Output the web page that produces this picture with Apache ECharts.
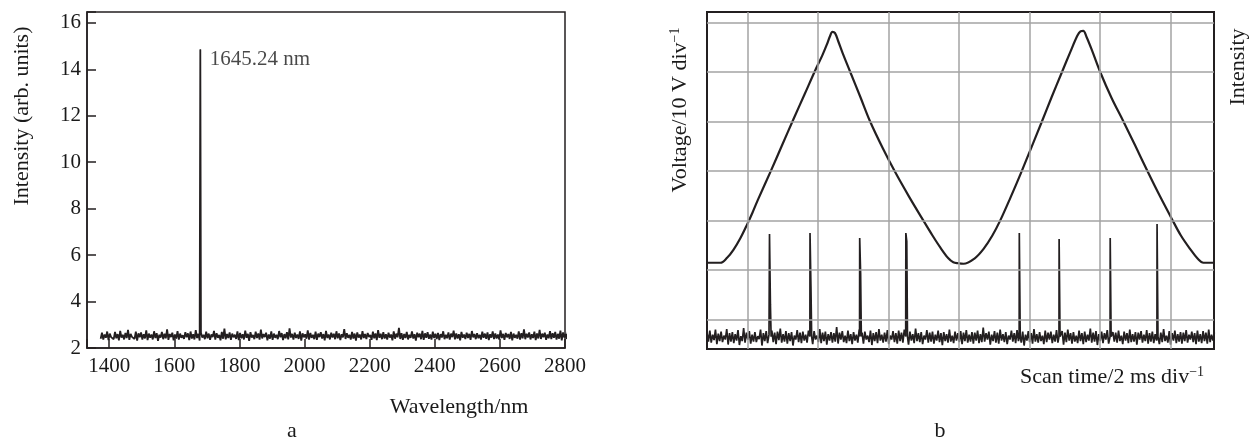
<!DOCTYPE html>
<html><head><meta charset="utf-8">
<script src="https://cdn.jsdelivr.net/npm/echarts@6/dist/echarts.min.js"></script>
<style>html,body{margin:0;padding:0;background:#fff}#c{width:1257px;height:439px}</style>
</head><body><div id="c"></div>
<script>
// ---------- Panel a: spectrum ----------
const aXTicks = [1400, 1600, 1800, 2000, 2200, 2400, 2600, 2800];
const aYTicks = [2, 4, 6, 8, 10, 12, 14, 16];
const aNoiseStart = 1374;   // nm, first sample
const aNoiseStep = 4;       // nm between samples
const aNoise = [
2.40,2.66,2.36,2.58,2.44,2.71,2.34,2.62,2.47,2.55,
2.38,2.69,2.42,2.60,2.33,2.74,2.45,2.57,2.37,2.65,
2.43,2.78,2.35,2.61,2.48,2.56,2.39,2.70,2.32,2.63,
2.46,2.67,2.36,2.59,2.41,2.76,2.34,2.62,2.44,2.58,
2.37,2.72,2.43,2.64,2.31,2.57,2.45,2.69,2.38,2.61,
2.42,2.80,2.35,2.60,2.47,2.66,2.33,2.58,2.40,2.73,
2.36,2.62,2.44,2.55,2.39,2.68,2.46,2.63,2.34,2.71,
2.41,2.59,2.37,2.77,2.43,2.61,2.32,2.66,2.45,2.57,
2.38,2.70,2.42,2.62,2.35,2.58,2.47,2.74,2.36,2.64,
2.44,2.56,2.33,2.69,2.40,2.83,2.37,2.60,2.43,2.67,
2.35,2.62,2.46,2.57,2.39,2.72,2.34,2.65,2.42,2.59,
2.37,2.75,2.44,2.61,2.31,2.68,2.45,2.56,2.38,2.70,
2.43,2.63,2.36,2.79,2.41,2.60,2.47,2.66,2.33,2.58,
2.40,2.71,2.35,2.62,2.44,2.57,2.38,2.73,2.46,2.64,
2.34,2.60,2.42,2.68,2.37,2.85,2.45,2.61,2.36,2.66,
2.43,2.58,2.39,2.72,2.32,2.63,2.46,2.59,2.40,2.76,
2.36,2.65,2.44,2.57,2.38,2.70,2.35,2.62,2.47,2.68,
2.41,2.60,2.33,2.74,2.43,2.58,2.37,2.66,2.45,2.61,
2.38,2.72,2.42,2.63,2.34,2.59,2.46,2.81,2.39,2.64,
2.44,2.57,2.36,2.69,2.41,2.62,2.32,2.67,2.45,2.58,
2.37,2.73,2.43,2.60,2.39,2.65,2.47,2.56,2.35,2.70,
2.42,2.63,2.34,2.77,2.44,2.61,2.38,2.68,2.41,2.59,
2.36,2.66,2.45,2.58,2.33,2.72,2.40,2.62,2.46,2.87,
2.39,2.64,2.35,2.60,2.43,2.69,2.37,2.57,2.44,2.71,
2.41,2.59,2.32,2.66,2.46,2.62,2.38,2.74,2.35,2.63,
2.44,2.68,2.40,2.58,2.36,2.70,2.43,2.61,2.39,2.65,
2.34,2.60,2.45,2.72,2.38,2.57,2.42,2.67,2.36,2.62,
2.47,2.75,2.37,2.63,2.41,2.59,2.33,2.69,2.44,2.58,
2.39,2.66,2.43,2.61,2.35,2.73,2.46,2.60,2.38,2.64,
2.42,2.57,2.36,2.70,2.44,2.62,2.40,2.67,2.34,2.59,
2.45,2.71,2.38,2.63,2.41,2.58,2.37,2.76,2.43,2.61,
2.35,2.65,2.46,2.60,2.39,2.69,2.33,2.62,2.44,2.57,
2.40,2.72,2.36,2.64,2.42,2.80,2.38,2.61,2.45,2.67,
2.37,2.59,2.43,2.70,2.34,2.63,2.41,2.78,2.39,2.62,
2.46,2.66,2.35,2.58,2.42,2.73,2.38,2.64,2.44,2.69,
2.36,2.61,2.40,2.75,2.33,2.67,2.45,2.60,2.39,2.84
];
const aPeakWavelength = 1680;
const aPeakIntensity = 14.85;
const aPeakLabel = '1645.24 nm';

// ---------- Panel b: scan trace ----------
const bGridTimes = [2, 4, 6, 8, 10, 12, 14];        // ms, 2 ms per division
const bGridVolts = [0, 10, 20, 30, 40, 50, 60];     // V, 10 V per division
const bVoltTimes = [0.85,1.23,1.42,1.60,1.80,1.98,2.14,2.30,2.66,2.98,3.30,3.62,3.92,4.12,4.25,4.34,4.41,4.48,4.57,4.70,4.91,5.20,5.48,5.84,6.19,6.58,6.95,7.25,7.47,7.70,7.84,7.98,8.13,8.45,8.70,8.95,9.17,9.46,9.76,10.07,10.35,10.63,10.92,11.16,11.36,11.45,11.53,11.62,11.78,12.01,12.33,12.67,13.00,13.35,13.70,14.04,14.30,14.56,14.78,14.94,15.24];
const bVolts     = [11.5,11.5,12.5,14.1,16.5,19.1,21.6,24.3,30.0,35.2,40.4,45.5,50.3,53.3,55.5,57.2,58.1,57.9,56.3,53.8,50.1,45.0,40.0,34.6,29.8,24.9,20.5,17.0,14.6,12.4,11.6,11.4,11.3,12.4,14.3,17.0,20.0,24.6,29.6,35.0,39.9,44.9,49.9,54.0,57.3,58.2,58.3,57.1,54.3,50.0,44.8,40.0,35.2,30.0,25.0,20.4,17.0,14.3,12.3,11.5,11.5];
const bNoiseStart = 0.85;   // ms
const bNoiseStep = 0.04;    // ms
const bNoise = [
-2.6,-4.4,-2.2,-4.6,-3.0,-4.1,-2.0,-4.9,-2.8,-4.3,
-2.4,-4.5,-3.2,-4.0,-1.9,-5.0,-2.7,-4.4,-2.5,-4.7,
-2.9,-4.2,-2.1,-5.1,-3.3,-4.3,-1.7,-4.6,-2.6,-4.0,
-2.3,-4.8,-3.0,-4.4,-2.5,-4.5,-3.3,-3.9,-2.0,-5.2,
-2.7,-4.3,-2.3,-4.7,-3.0,-4.2,-2.2,-4.5,-2.6,-4.9,
-2.4,-4.1,-1.8,-4.6,-2.9,-4.4,-2.3,-4.8,-2.7,-4.3,
-2.5,-5.2,-3.2,-4.0,-2.1,-4.5,-2.6,-4.7,-2.4,-4.2,
-3.0,-4.6,-2.2,-4.4,-2.7,-4.9,-2.3,-4.0,-3.2,-4.5,
-1.9,-4.7,-2.6,-4.3,-2.4,-5.0,-2.9,-4.2,-2.5,-4.6,
-2.7,-4.4,-1.5,-4.8,-2.6,-4.0,-2.3,-4.5,-3.2,-4.7,
-2.2,-4.3,-2.9,-4.9,-2.5,-4.2,-3.0,-4.6,-2.0,-4.4,
-2.6,-4.8,-2.4,-4.0,-3.2,-4.5,-2.2,-5.1,-2.7,-4.3,
-2.5,-4.7,-1.9,-4.2,-3.0,-4.6,-2.6,-4.4,-2.1,-4.9,
-3.2,-4.0,-2.3,-4.5,-2.7,-4.8,-2.2,-4.3,-2.6,-4.6,
-2.0,-4.4,-3.0,-5.0,-2.4,-4.2,-2.9,-4.7,-1.8,-4.3,
-2.7,-4.5,-2.5,-4.9,-3.2,-4.0,-2.1,-4.6,-2.6,-4.4,
-2.4,-4.8,-3.0,-4.2,-2.2,-4.5,-2.7,-5.1,-2.5,-4.3,
-2.9,-4.6,-2.0,-4.4,-3.2,-4.7,-2.4,-4.2,-2.7,-4.5,
-2.3,-4.9,-2.6,-4.3,-2.1,-4.6,-3.0,-4.4,-2.5,-4.8,
-2.6,-4.2,-2.2,-4.7,-2.9,-4.5,-1.6,-4.4,-2.7,-4.0,
-2.4,-5.0,-3.0,-4.3,-2.3,-4.6,-2.6,-4.8,-2.0,-4.2,
-2.9,-4.5,-2.5,-4.9,-3.2,-4.0,-2.2,-4.4,-2.7,-4.7,
-2.1,-4.3,-2.6,-4.6,-2.4,-5.2,-3.0,-4.2,-2.3,-4.5,
-2.7,-4.8,-1.9,-4.4,-2.9,-4.6,-2.5,-4.3,-3.2,-4.9,
-2.2,-4.5,-2.6,-4.0,-2.4,-4.7,-3.0,-4.4,-2.1,-4.6,
-2.9,-4.3,-2.3,-5.0,-2.6,-4.5,-2.0,-4.2,-2.7,-4.8,
-2.5,-4.4,-3.2,-4.7,-2.2,-4.3,-2.7,-4.9,-2.4,-4.5,
-3.0,-4.2,-1.8,-4.6,-2.6,-4.4,-2.3,-5.1,-2.9,-4.3,
-2.4,-4.7,-2.7,-4.0,-2.1,-4.8,-3.0,-4.5,-2.5,-4.4,
-2.6,-4.6,-2.2,-4.3,-3.2,-4.9,-2.4,-4.2,-2.7,-4.7,
-2.0,-4.5,-2.9,-4.4,-2.5,-5.0,-2.6,-4.0,-2.3,-4.6,
-3.0,-4.3,-2.1,-4.8,-2.7,-4.4,-2.4,-4.7,-2.9,-4.2,
-2.5,-4.9,-2.6,-4.5,-1.9,-4.3,-3.2,-4.6,-2.3,-5.0,
-2.7,-4.2,-2.2,-4.7,-2.9,-4.4,-2.5,-4.8,-2.6,-4.3,
-2.1,-4.6,-3.0,-4.0,-2.4,-4.5,-2.7,-4.9,-2.2,-4.4,
-2.9,-4.7,-2.3,-4.3,-2.6,-4.8,-2.0,-4.5,-3.0,-4.2,
-2.6
];
const bPulseBase = -3.4;
const bPulseTimes = [2.62, 3.77, 5.18, 6.49, 9.71, 10.84, 12.29, 13.62];
const bPulseTops  = [17.3, 17.5, 16.5, 17.5, 17.5, 16.3, 16.5, 19.3];
const bPulseTails = [3.0, 6.7, 9.4, 15.8, -3.4, -3.4, -3.4, -3.4];

// ---------- build ----------
const INK = '#231f20';
const TXT = '#1a1a1a';
const FONT = '"Liberation Serif", "Times New Roman", serif';
const PULSE_W = 0.05;

const aSpectrum = aNoise.map((v, i) => [aNoiseStart + i * aNoiseStep, v]);
aSpectrum.push([aPeakWavelength, aPeakIntensity]);
aSpectrum.sort((p, q) => p[0] - q[0]);

const bTrace = bNoise.map((v, i) => [bNoiseStart + i * bNoiseStep, v])
  .filter(p => !bPulseTimes.some(t => p[0] >= t - 0.005 && p[0] <= t + PULSE_W + 0.005));
bPulseTimes.forEach((t, i) => {
  bTrace.push([t, bPulseBase], [t + 0.004, bPulseTops[i]], [t + 0.03, bPulseTails[i]], [t + PULSE_W, bPulseBase]);
});
bTrace.sort((p, q) => p[0] - q[0]);

const bVoltage = bVoltTimes.map((t, i) => [t, bVolts[i]]);

const chart = echarts.init(document.getElementById('c'));
const titleStyle = (text, extra) => Object.assign({
  text: text, fontSize: 22, fontFamily: FONT, fill: TXT, align: 'center', verticalAlign: 'middle'
}, extra || {});
const sup = { sup: { fontSize: 14, fontFamily: FONT, fill: TXT, verticalAlign: 'top', lineHeight: 14 } };

chart.setOption({
  animation: false,
  backgroundColor: '#fff',
  grid: [
    { left: 87, right: 692, top: 12, bottom: 91, show: true, borderColor: INK, borderWidth: 1.5 },
    { left: 707, right: 43, top: 12, bottom: 90, show: true, borderColor: INK, borderWidth: 2 }
  ],
  xAxis: [
    { gridIndex: 0, type: 'value', min: 1332, max: 2800, splitNumber: 7,
      axisLine: { show: true, onZero: false, lineStyle: { color: INK, width: 1.5 } },
      axisTick: { show: true, inside: true, length: 9, lineStyle: { color: INK, width: 1.5 } },
      axisLabel: { color: TXT, fontSize: 21, fontFamily: FONT, margin: 8,
        formatter: v => (aXTicks.indexOf(v) >= 0 ? String(v) : '') },
      splitLine: { show: false } },
    { gridIndex: 1, type: 'value', min: 0.85, max: 15.24, show: false }
  ],
  yAxis: [
    { gridIndex: 0, type: 'value', min: 2, max: 16.47, interval: 2,
      axisLine: { show: true, onZero: false, lineStyle: { color: INK, width: 1.5 } },
      axisTick: { show: true, inside: true, length: 9, lineStyle: { color: INK, width: 1.5 } },
      axisLabel: { color: TXT, fontSize: 21, fontFamily: FONT, margin: 6,
        formatter: v => (aYTicks.indexOf(v) >= 0 ? String(v) : '') },
      splitLine: { show: false } },
    { gridIndex: 1, type: 'value', min: -5.9, max: 62.1, show: false }
  ],
  series: [
    { type: 'line', xAxisIndex: 0, yAxisIndex: 0, data: aSpectrum, showSymbol: false, symbol: 'none',
      lineStyle: { color: INK, width: 1.8 }, z: 3 },
    { type: 'scatter', xAxisIndex: 0, yAxisIndex: 0, data: [[aPeakWavelength, aPeakIntensity]],
      symbolSize: 1, itemStyle: { color: INK }, z: 4,
      label: { show: true, position: 'right', distance: 9, offset: [0, 10], formatter: aPeakLabel,
        color: TXT, fontSize: 21, fontFamily: FONT } },
    { type: 'line', xAxisIndex: 1, yAxisIndex: 1, data: [], z: 1,
      markLine: { silent: true, symbol: ['none', 'none'], label: { show: false },
        lineStyle: { color: '#a3a3a3', width: 1.5, type: 'solid' },
        emphasis: { disabled: true },
        data: bGridTimes.map(t => ({ xAxis: t })).concat(bGridVolts.map(v => ({ yAxis: v }))) } },
    { type: 'line', xAxisIndex: 1, yAxisIndex: 1, data: bVoltage, showSymbol: false, symbol: 'none',
      smooth: 0.35, lineStyle: { color: INK, width: 2.2 }, z: 3 },
    { type: 'line', xAxisIndex: 1, yAxisIndex: 1, data: bTrace, showSymbol: false, symbol: 'none',
      lineStyle: { color: INK, width: 1.7 }, z: 3 }
  ],
  graphic: [
    { type: 'text', x: 22, y: 116, rotation: Math.PI / 2, style: titleStyle('Intensity (arb. units)') },
    { type: 'text', x: 459, y: 407, style: titleStyle('Wavelength/nm') },
    { type: 'text', x: 292, y: 431, style: titleStyle('a') },
    { type: 'text', x: 680, y: 110, rotation: Math.PI / 2,
      style: titleStyle('Voltage/10 V div{sup|−1}', { rich: sup, lineHeight: 24 }) },
    { type: 'text', x: 1112, y: 377, style: titleStyle('Scan time/2 ms div{sup|−1}', { rich: sup, lineHeight: 24 }) },
    { type: 'text', x: 1238, y: 67, rotation: Math.PI / 2, style: titleStyle('Intensity') },
    { type: 'text', x: 940, y: 431, style: titleStyle('b') }
  ]
});
</script></body></html>
